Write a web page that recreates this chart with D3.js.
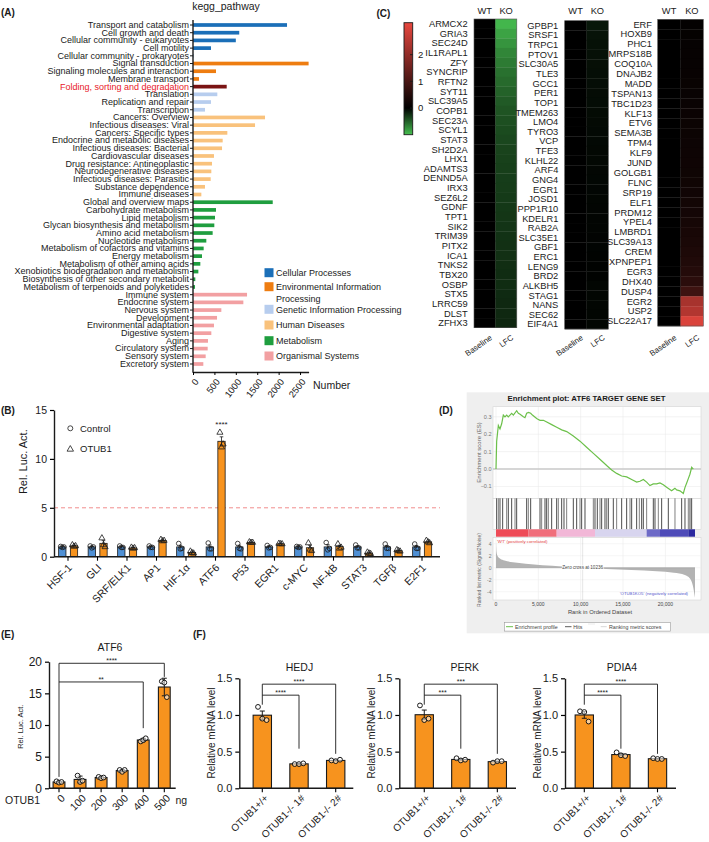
<!DOCTYPE html>
<html><head><meta charset="utf-8">
<script src="https://cdn.jsdelivr.net/npm/d3@7"></script>
<style>body{margin:0;background:#fff}svg{display:block;font-family:"Liberation Sans",Arial,Helvetica,sans-serif}</style>
</head><body><svg id="c" width="709" height="842"></svg>
<script>
// ================= DATA =================
// Panel A
const keggCategories = ["Transport and catabolism","Cell growth and death","Cellular community - eukaryotes","Cell motility","Cellular community - prokaryotes",
"Signal transduction","Signaling molecules and interaction","Membrane transport",
"Folding, sorting and degradation","Translation","Replication and repair","Transcription",
"Cancers: Overview","Infectious diseases: Viral","Cancers: Specific types","Endocrine and metabolic diseases","Infectious diseases: Bacterial","Cardiovascular diseases","Drug resistance: Antineoplastic","Neurodegenerative diseases","Infectious diseases: Parasitic","Substance dependence","Immune diseases",
"Global and overview maps","Carbohydrate metabolism","Lipid metabolism","Glycan biosynthesis and metabolism","Amino acid metabolism","Nucleotide metabolism","Metabolism of cofactors and vitamins","Energy metabolism","Metabolism of other amino acids","Xenobiotics biodegradation and metabolism","Biosynthesis of other secondary metabolit","Metabolism of terpenoids and polyketides",
"Immune system","Endocrine system","Nervous system","Development","Environmental adaptation","Digestive system","Aging","Circulatory system","Sensory system","Excretory system"];
const keggGroup = [0,0,0,0,0, 1,1,1, 2,2,2,2, 3,3,3,3,3,3,3,3,3,3,3, 4,4,4,4,4,4,4,4,4,4,4,4, 5,5,5,5,5,5,5,5,5,5];
const keggValues = [2196,1080,1000,420,8, 2700,537,140, 787,568,420,280, 1682,1449,802,693,678,490,444,428,413,280,195, 1862,537,514,498,459,311,249,210,171,125,54,47, 1262,1176,662,561,490,428,350,343,296,241];
const keggGroupNames = ["Cellular Processes","Environmental Information","Genetic Information Processing","Human Diseases","Metabolism","Organismal Systems"];
const keggGroupColors = ["#1b6fb8","#ee7d11","#b7cdee","#f9c27c","#1f9e3f","#f2a0a2"];
const keggHighlight = "Folding, sorting and degradation";
const keggTicks = [0,500,1000,1500,2000,2500];

// Panel B
const lucGenes = ["HSF-1","GLI","SRF/ELK1","AP1","HIF-1α","ATF6","P53","EGR1","c-MYC","NF-kB","STAT3","TGFβ","E2F1"];
const lucControl = [[1.05,0.95,1.0],[1.1,0.9,1.0],[1.1,0.95,0.95],[1.1,0.95,0.95],[1.35,0.8,0.85],[1.4,0.8,0.8],[1.35,0.85,0.8],[1.15,0.9,0.95],[1.05,0.95,1.0],[1.45,0.7,0.85],[1.2,0.9,0.9],[1.3,0.85,0.85],[1.3,0.85,0.85]];
const lucOTUB1 = [[1.2,1.05,1.1],[1.9,1.2,1.0],[0.95,0.85,0.9],[1.75,1.6,1.65],[0.55,0.4,0.35],[12.7,11.2,11.5],[1.5,1.45,1.45],[1.35,1.3,1.3],[1.4,0.75,0.6],[1.3,0.85,0.95],[0.45,0.35,0.3],[0.7,0.6,0.55],[1.65,1.5,1.4]];
const lucTicks = [0,5,10,15];
const lucThreshold = 5;

// Panel C
const hmGenes1 = ["ARMCX2","GRIA3","SEC24D","IL1RAPL1","ZFY","SYNCRIP","RFTN2","SYT11","SLC39A5","COPB1","SEC23A","SCYL1","STAT3","SH2D2A","LHX1","ADAMTS3","DENND5A","IRX3","SEZ6L2","GDNF","TPT1","SIK2","TRIM39","PITX2","ICA1","TNKS2","TBX20","OSBP","STX5","LRRC59","DLST","ZFHX3"];
const hmLFC1 = [-0.95,-0.85,-0.77,-0.7,-0.64,-0.59,-0.55,-0.51,-0.47,-0.44,-0.41,-0.39,-0.37,-0.35,-0.34,-0.33,-0.32,-0.31,-0.3,-0.29,-0.28,-0.27,-0.26,-0.25,-0.25,-0.24,-0.23,-0.23,-0.22,-0.21,-0.21,-0.2];
const hmGenes2 = ["GPBP1","SRSF1","TRPC1","PTOV1","SLC30A5","TLE3","GCC1","PER1","TOP1","TMEM263","LMO4","TYRO3","VCP","TFE3","KLHL22","ARF4","GNG4","EGR1","JOSD1","PPP1R10","KDELR1","RAB2A","SLC35E1","GBF1","ERC1","LENG9","BRD2","ALKBH5","STAG1","NANS","SEC62","EIF4A1"];
const hmLFC2 = [-0.12,-0.1,-0.09,-0.085,-0.08,-0.075,-0.07,-0.065,-0.06,-0.055,-0.05,-0.048,-0.045,-0.042,-0.04,-0.038,-0.035,-0.033,-0.03,-0.028,-0.026,-0.024,-0.022,-0.02,-0.018,-0.016,-0.015,-0.03,-0.03,-0.03,-0.03,-0.03];
const hmGenes3 = ["ERF","HOXB9","PHC1","MRPS18B","COQ10A","DNAJB2","MADD","TSPAN13","TBC1D23","KLF13","ETV6","SEMA3B","TPM4","KLF9","JUND","GOLGB1","FLNC","SRP19","ELF1","PRDM12","YPEL4","LMBRD1","SLC39A13","CREM","XPNPEP1","EGR3","DHX40","DUSP4","EGR2","USP2","SLC22A17"];
const hmLFC3 = [0.06,0.07,0.08,0.09,0.1,0.11,0.12,0.13,0.14,0.15,0.16,0.17,0.18,0.19,0.2,0.21,0.22,0.24,0.26,0.28,0.3,0.33,0.36,0.4,0.44,0.5,0.6,0.85,2.3,2.45,3.0];
const hmColumns = ["Baseline","LFC"];
const hmHeaders = ["WT","KO"];
const hmBarTicks = [0,1,2];

// Panel D
const esRanks = [0,79,276,470,670,866,1060,1260,1450,1654,1850,2050,2441,2640,2840,3229,3420,3622,3850,4095,4300,4800,5000,5200,5600,5990,6580,7170,7760,8350,9130,9920,10700,11500,12300,13070,13660,14250,14840,15430,16020,16610,17000,17400,17790,18180,18570,18970,19360,19760,20150,20740,21130,21330,21720,22120,22320,22520,22710,22900,23110,23300];
const esValues = [0,0.16,0.25,0.23,0.26,0.31,0.3,0.31,0.3,0.31,0.32,0.31,0.335,0.32,0.315,0.3,0.295,0.32,0.325,0.32,0.31,0.29,0.285,0.28,0.28,0.27,0.255,0.24,0.225,0.215,0.19,0.16,0.125,0.09,0.055,0.02,-0.005,-0.025,-0.04,-0.045,-0.06,-0.075,-0.07,-0.06,-0.075,-0.095,-0.085,-0.085,-0.08,-0.09,-0.105,-0.125,-0.11,-0.12,-0.125,-0.14,-0.105,-0.08,-0.055,-0.03,0.01,0.0];
const hitRanks = [79,276,472,787,1260,1456,1850,2244,2440,3621,3818,4093,5196,5392,5786,5983,6180,6573,7164,7360,7754,8029,8344,9131,9525,9919,10115,10509,11493,11690,11965,12280,12477,12870,13067,13264,13854,14248,14839,15429,15823,16020,16610,16925,17200,17397,17790,18578,18775,19168,19562,20349,21136,21923,22317,22710,22907,23104];
const metricRanks = [0,60,200,500,1000,2000,3500,5500,7800,10236,13000,16000,19000,21000,22300,22900,23250,23500];
const metricValues = [4.2,2.6,1.9,1.5,1.2,0.9,0.65,0.42,0.22,0,-0.2,-0.4,-0.6,-0.85,-1.2,-1.8,-3,-5];
const corrSegEnds = [3818,7164,11690,17790,19365,22710,23500];
const corrSegColors = ["#ee4b57","#f06e7b","#f2b7d7","#d8d5ef","#6d6ac7","#4e4bb8","#2b29a0"];
const rankTicks = [0,5000,10000,15000,20000];
const esTicks = [0.3,0.2,0.1,0.0,-0.1];
const metricTicks = [4,2,0,-2,-4];
const zeroCross = 10236;

// Panel E
const doseLabels = ["0","100","200","300","400","500"];
const doseReps = [[1.1,0.9,1.0],[2.0,1.0,1.2],[1.8,1.6,1.7],[2.9,2.6,2.9],[7.4,7.6,7.9],[16.9,16.7,14.4]];
const doseTicks = [0,5,10,15,20];

// Panel F
const fGroups = ["OTUB1+/+","OTUB1-/- 1#","OTUB1-/- 2#"];
const fTitles = ["HEDJ","PERK","PDIA4"];
const fReps = [
  [[1.11,0.95,0.93],[0.33,0.33,0.34],[0.38,0.37,0.39]],
  [[1.13,0.93,0.95],[0.41,0.38,0.39],[0.35,0.37,0.37]],
  [[1.05,1.04,0.91],[0.49,0.45,0.44],[0.41,0.40,0.40]]];
const fSig = [["****","****"],["***","***"],["****","****"]];
const fTicks = [0,0.5,1.0,1.5];

// ================= DRAW =================
const svg = d3.select("#c");
const INK = "#1a1a1a";
const ORANGE = "#f7931e", BLUE = "#4f90d5";
function txt(g,x,y,s,size,opts={}){
  const t=g.append("text").attr("x",x).attr("y",y).text(s).attr("font-size",size).attr("fill",opts.fill||INK);
  if(opts.anchor) t.attr("text-anchor",opts.anchor);
  if(opts.bold) t.attr("font-weight","bold");
  if(opts.rot!==undefined) t.attr("transform",`rotate(${opts.rot},${x},${y})`);
  return t;
}
function line(g,x1,y1,x2,y2,w,c){return g.append("line").attr("x1",x1).attr("y1",y1).attr("x2",x2).attr("y2",y2).attr("stroke",c||INK).attr("stroke-width",w||1);}

// ---------- Panel A ----------
{
  const g = svg.append("g");
  txt(g,1,15.5,"(A)",10,{bold:true});
  txt(g,226,9.5,"kegg_pathway",10.5,{anchor:"middle"});
  const x = d3.scaleLinear().domain([0,2700]).range([193,308.6]);
  const y = d3.scaleBand().domain(keggCategories).range([21.15,367.85]).paddingInner(0.52).paddingOuter(0.26);
  g.selectAll("rect.kb").data(keggCategories).join("rect").attr("class","kb")
    .attr("x",x(0)).attr("y",d=>y(d)).attr("height",y.bandwidth())
    .attr("width",(d,i)=>x(keggValues[i])-x(0))
    .attr("fill",(d,i)=> d===keggHighlight ? "#7a1414" : keggGroupColors[keggGroup[i]]);
  const ay = g.append("g").attr("transform","translate(193,0)").call(d3.axisLeft(y).tickSize(3).tickSizeOuter(0).tickPadding(1));
  ay.select(".domain").remove();
  ay.selectAll("text").attr("font-size",9).attr("font-family",null).attr("fill",d=>d===keggHighlight?"#e8202a":INK);
  ay.selectAll("line").attr("stroke",INK);
  line(g,193,20,193,372.7,1.4);
  const ax = g.append("g").attr("transform","translate(0,372)").call(d3.axisBottom(x).tickValues(keggTicks).tickSize(3).tickSizeOuter(0).tickFormat(d3.format("d")));
  ax.select(".domain").attr("stroke",INK).attr("stroke-width",1.4);
  ax.selectAll("text").attr("font-size",9.3).attr("font-family",null).attr("fill",INK)
    .attr("text-anchor","end").attr("x",0).attr("y",0).attr("dy","0.35em").attr("transform","translate(3,8) rotate(-52)");
  txt(g,313,389,"Number",10.5);
  const legY = [272.7,286.7,309.3,325,340.7,356];
  keggGroupNames.forEach((n,i)=>{
    g.append("rect").attr("x",264.5).attr("y",legY[i]-4.5).attr("width",9).attr("height",9).attr("fill",keggGroupColors[i]);
    txt(g,276,legY[i]+3.2,n,9);
  });
  txt(g,276,298.3+3.2,"Processing",9);
}

// ---------- Panel B ----------
{
  const g = svg.append("g");
  txt(g,1,414,"(B)",10,{bold:true});
  const y = d3.scaleLinear().domain([0,15]).range([556.7,410]);
  const x = d3.scaleBand().domain(lucGenes).range([53.25,436.75]).paddingInner(0).paddingOuter(0);
  const bw = 7.3;
  line(g,54,y(lucThreshold),440,y(lucThreshold),0.9,"#f08080").attr("stroke-dasharray","4,3");
  function series(reps,color,dx,shape){
    reps.forEach((r,i)=>{
      const cx = x(lucGenes[i])+x.bandwidth()/2+dx;
      const m = d3.mean(r), se = d3.deviation(r)/Math.sqrt(r.length);
      g.append("rect").attr("x",cx-bw/2).attr("y",y(m)).attr("width",bw).attr("height",y(0)-y(m)).attr("fill",color).attr("stroke",INK).attr("stroke-width",0.8);
      line(g,cx,y(m+se),cx,y(m-se),0.8); line(g,cx-1.8,y(m+se),cx+1.8,y(m+se),0.8);
      r.forEach((v,j)=>{
        const px = cx+(j-1)*1.6;
        if(shape==="c") g.append("circle").attr("cx",px).attr("cy",y(v)).attr("r",2.3).attr("fill","none").attr("stroke",INK).attr("stroke-width",0.8);
        else g.append("path").attr("d",d3.symbol(d3.symbolTriangle,16)()).attr("transform",`translate(${px},${y(v)})`).attr("fill","none").attr("stroke",INK).attr("stroke-width",0.8);
      });
    });
  }
  series(lucControl,BLUE,-5.7,"c");
  series(lucOTUB1,ORANGE,6,"t");
  const ay = g.append("g").attr("transform","translate(54,0)").call(d3.axisLeft(y).tickValues(lucTicks).tickSize(4).tickSizeOuter(0));
  ay.select(".domain").attr("stroke",INK).attr("stroke-width",1.4);
  ay.selectAll("line").attr("stroke-width",1.2);
  ay.selectAll("text").attr("font-size",10.5).attr("font-family",null).attr("fill",INK);
  const ax = g.append("g").attr("transform","translate(0,556.7)").call(d3.axisBottom(x).tickSize(4).tickSizeOuter(0));
  ax.select(".domain").attr("stroke",INK).attr("stroke-width",1.4).attr("d","M54,0H440");
  ax.selectAll("line").attr("stroke-width",1.1);
  ax.selectAll("text").attr("font-size",10.5).attr("font-family",null).attr("fill",INK)
    .attr("text-anchor","end").attr("x",0).attr("y",0).attr("dy","0.35em").attr("transform","translate(2,9) rotate(-45)");
  txt(g,27,461.7,"Rel. Luc. Act.",11,{anchor:"middle",rot:-90});
  g.append("circle").attr("cx",70.3).attr("cy",428.3).attr("r",2.5).attr("fill","none").attr("stroke",INK).attr("stroke-width",0.8);
  txt(g,80,431.5,"Control",9.5);
  g.append("path").attr("d",d3.symbol(d3.symbolTriangle,18)()).attr("transform","translate(70.3,449.3)").attr("fill","none").attr("stroke",INK).attr("stroke-width",0.8);
  txt(g,80,452.3,"OTUB1",9.5);
  txt(g,x("ATF6")+x.bandwidth()/2+6,427,"****",8,{anchor:"middle"});
}

// ---------- Panel C ----------
{
  const g = svg.append("g");
  txt(g,376.5,16.5,"(C)",10,{bold:true});
  const color = d3.scaleLinear().domain([-1,0,3.2]).range(["#46c050","#000000","#e8473f"]).clamp(true);
  const defs = svg.append("defs");
  const lg = defs.append("linearGradient").attr("id","cbar").attr("x1",0).attr("x2",0).attr("y1",1).attr("y2",0);
  const cb = d3.scaleLinear().domain([-1,3.2]).range([134.7,22.7]);
  [-1,-0.5,0,0.5,1,1.5,2,2.5,3,3.2].forEach(v=>lg.append("stop").attr("offset",(v+1)/4.2).attr("stop-color",color(v)));
  g.append("rect").attr("x",404).attr("y",22.7).attr("width",8.7).attr("height",112).attr("fill","url(#cbar)").attr("stroke",INK).attr("stroke-width",0.9);
  hmBarTicks.forEach(t=>{ line(g,410,cb(t),412.7,cb(t),0.9); txt(g,418,cb(t)+3.3,String(t),9.5); });
  function heat(genes,vals,x0,colW,y0,y1,labelX){
    const y = d3.scaleBand().domain(genes).range([y0,y1]);
    const xc = d3.scaleBand().domain(hmColumns).range([x0,x0+2*colW]);
    genes.forEach((gn,i)=>{
      g.append("rect").attr("x",xc("Baseline")).attr("y",y(gn)).attr("width",colW+0.3).attr("height",y.bandwidth()+0.3).attr("fill",color(0));
      g.append("rect").attr("x",xc("LFC")).attr("y",y(gn)).attr("width",colW).attr("height",y.bandwidth()+0.3).attr("fill",color(vals[i]));
      txt(g,labelX,y(gn)+y.bandwidth()/2+3.3,gn,9.3,{anchor:"end"});
    });
    g.append("rect").attr("x",x0).attr("y",y0).attr("width",2*colW).attr("height",y1-y0).attr("fill","none").attr("stroke","#555").attr("stroke-width",0.6);
    hmHeaders.forEach((h,k)=>txt(g,xc(hmColumns[k])+colW/2,14,h,9.3,{anchor:"middle"}));
    hmColumns.forEach(c=>{const ex=xc(c)+colW/2+8, ey=339; txt(g,ex,ey,c,8,{anchor:"end",rot:-35});});
  }
  heat(hmGenes1,hmLFC1,474,21.4,19,327.7,467.7);
  heat(hmGenes2,hmLFC2,564.7,21.8,20.7,329,558.3);
  heat(hmGenes3,hmLFC3,657.7,22.8,19.3,326,652);
}

// ---------- Panel D ----------
{
  const g = svg.append("g");
  g.append("rect").attr("x",466.7).attr("y",392.3).attr("width",242.3).attr("height",241).attr("fill","#efefef");
  txt(g,439,414,"(D)",10,{bold:true});
  txt(g,586.5,400.5,"Enrichment plot: ATF6 TARGET GENE SET",7.8,{anchor:"middle",bold:true});
  const x = d3.scaleLinear().domain([0,23500]).range([496,695]);
  const yE = d3.scaleLinear().domain([-0.168,0.358]).range([498.3,406.7]);
  const yM = d3.scaleLinear().domain([-5.38,4.62]).range([600,540]);
  const L=493, R=701;
  g.append("rect").attr("x",L).attr("y",406.7).attr("width",R-L).attr("height",91.6).attr("fill","#fff").attr("stroke","#d4d4d4").attr("stroke-width",0.6);
  g.append("rect").attr("x",L).attr("y",498.3).attr("width",R-L).attr("height",31).attr("fill","#fff").attr("stroke","#d4d4d4").attr("stroke-width",0.6);
  g.append("rect").attr("x",L).attr("y",537.5).attr("width",R-L).attr("height",62.5).attr("fill","#fff").attr("stroke","#d4d4d4").attr("stroke-width",0.6);
  rankTicks.forEach(t=>{ line(g,x(t),406.7,x(t),498.3,0.5,"#e6e6e6"); line(g,x(t),537.5,x(t),600,0.5,"#e6e6e6"); });
  esTicks.forEach(t=>{ if(t!==0) line(g,L,yE(t),R,yE(t),0.5,"#e6e6e6"); txt(g,491.5,yE(t)+2,d3.format(".1f")(t),5.5,{anchor:"end",fill:"#777"}); });
  metricTicks.forEach(t=>{ line(g,L,yM(t),R,yM(t),0.5,"#ececec"); txt(g,491.5,yM(t)+2,String(t),5,{anchor:"end",fill:"#777"}); });
  line(g,L,yE(0),R,yE(0),1.4,"#c8c8c8");
  g.append("path").datum(esRanks.map((r,i)=>[r,esValues[i]]))
    .attr("d",d3.line().x(d=>x(d[0])).y(d=>yE(d[1]))).attr("fill","none").attr("stroke","#6cc04a").attr("stroke-width",1.2);
  hitRanks.forEach((r,i)=>line(g,x(r),498.3,x(r),529.3,0.75,i%3===1?"#555":"#111"));
  let prev=0;
  corrSegEnds.forEach((e,i)=>{ g.append("rect").attr("x",x(prev)).attr("y",529.3).attr("width",x(e)-x(prev)).attr("height",7.4).attr("fill",corrSegColors[i]); prev=e; });
  g.append("path").datum(metricRanks.map((r,i)=>[r,metricValues[i]]))
    .attr("d",d3.area().x(d=>x(d[0])).y0(yM(0)).y1(d=>yM(d[1])).curve(d3.curveMonotoneX)).attr("fill","#b3b3b3");
  line(g,x(zeroCross),537.5,x(zeroCross),600,0.6,"#aaa").attr("stroke-dasharray","1,1");
  line(g,x(0),yM(0),x(23500),yM(0),0.6,"#999");
  const zc = txt(g,x(zeroCross),yM(0)+1.6,"Zero cross at "+zeroCross,4.6,{anchor:"middle",fill:"#444"});
  zc.attr("stroke","#fff").attr("stroke-width",1.5).attr("paint-order","stroke");
  txt(g,497,542.5,"'WT' (positively correlated)",4.3,{fill:"#e33b3b"});
  txt(g,688,595,"'OTUB1KO5' (negatively correlated)",4.3,{anchor:"end",fill:"#5555cc"});
  rankTicks.forEach(t=>txt(g,x(t),606,d3.format(",")(t),5,{anchor:"middle",fill:"#444"}));
  txt(g,600,614,"Rank in Ordered Dataset",5.8,{anchor:"middle",fill:"#444"});
  txt(g,481,452.5,"Enrichment score (ES)",6,{anchor:"middle",fill:"#666",rot:-90});
  txt(g,481,570,"Ranked list metric (Signal2Noise)",5,{anchor:"middle",fill:"#666",rot:-90});
  g.append("rect").attr("x",504.3).attr("y",622.3).attr("width",166.4).attr("height",8.8).attr("fill","#fff").attr("stroke","#999").attr("stroke-width",0.6);
  line(g,506,626.7,513,626.7,1,"#6cc04a"); txt(g,515,628.5,"Enrichment profile",5.3,{fill:"#444"});
  line(g,565,626.7,571.5,626.7,0.8,"#333"); txt(g,573.3,628.5,"Hits",5.3,{fill:"#444"});
  line(g,588,624,595,624,0.6,"#ddd");
  line(g,600.7,626.7,606.7,626.7,0.8,"#ccc"); txt(g,609,628.5,"Ranking metric scores",5.3,{fill:"#444"});
}

// ---------- helper for E/F bar panels ----------
function barPanel(g,o){
  const y = d3.scaleLinear().domain(o.ydom).range([o.y0,o.y1]);
  const x = d3.scaleBand().domain(o.cats).range(o.xr).paddingInner(o.pad).paddingOuter(o.pad/2);
  o.reps.forEach((r,i)=>{
    const cx = x(o.cats[i])+x.bandwidth()/2;
    const m = d3.mean(r); const e = o.sd ? d3.deviation(r) : d3.deviation(r)/Math.sqrt(r.length);
    g.append("rect").attr("x",x(o.cats[i])).attr("y",y(m)).attr("width",x.bandwidth()).attr("height",y(0)-y(m)).attr("fill",ORANGE).attr("stroke",INK).attr("stroke-width",1.1);
    line(g,cx,y(m+e),cx,y(m-e),1); line(g,cx-2.5,y(m+e),cx+2.5,y(m+e),1); line(g,cx-2.5,y(m-e),cx+2.5,y(m-e),1);
    r.forEach((v,j)=>g.append("circle").attr("cx",cx+(j-1)*o.jit).attr("cy",y(v)).attr("r",2.4).attr("fill","#fff").attr("fill-opacity",0.55).attr("stroke",INK).attr("stroke-width",1));
  });
  const ay = g.append("g").attr("transform",`translate(${o.ax},0)`).call(d3.axisLeft(y).tickValues(o.ticks).tickSize(4).tickSizeOuter(0).tickFormat(o.fmt));
  ay.select(".domain").attr("stroke",INK).attr("stroke-width",1.4);
  ay.selectAll("line").attr("stroke-width",1.2);
  ay.selectAll("text").attr("font-size",o.tfs).attr("font-family",null).attr("fill",INK);
  const axg = g.append("g").attr("transform",`translate(0,${o.y0})`).call(d3.axisBottom(x).tickSize(4).tickSizeOuter(0));
  axg.select(".domain").attr("stroke",INK).attr("stroke-width",1.4).attr("d",`M${o.ax},0H${o.axEnd}`);
  axg.selectAll("line").attr("stroke-width",1.1);
  axg.selectAll("text").attr("font-size",o.xfs).attr("font-family",null).attr("fill",INK)
    .attr("text-anchor","end").attr("x",0).attr("y",0).attr("dy","0.35em").attr("transform",`translate(4,8) rotate(-45)`);
  return {x,y,cx:i=>x(o.cats[i])+x.bandwidth()/2};
}
function bracket(g,x1,x2,yl,yLeft,yRight,label,fs){
  line(g,x1,yLeft,x1,yl,0.9); line(g,x1,yl,x2,yl,0.9); line(g,x2,yl,x2,yRight,0.9);
  txt(g,(x1+x2)/2,yl-0.3,label,fs,{anchor:"middle"});
}

// ---------- Panel E ----------
{
  const g = svg.append("g");
  txt(g,1,638.3,"(E)",10,{bold:true});
  txt(g,110,650.5,"ATF6",10.5,{anchor:"middle"});
  const p = barPanel(g,{ydom:[0,20],y0:788.3,y1:661.7,cats:doseLabels,xr:[48.47,174.83],pad:0.44,reps:doseReps,sd:true,
    ax:49,axEnd:175.7,ticks:doseTicks,tfs:12,xfs:10.5,jit:2.5,fmt:d3.format("d")});
  txt(g,23.5,726.7,"Rel. Luc. Act.",7.5,{anchor:"middle",rot:-90});
  txt(g,5,803.5,"OTUB1",10.5);
  txt(g,175.5,803.5,"ng",10.5);
  bracket(g,p.cx(0),p.cx(5),p.y(19.75),p.y(1.8),p.y(17.6),"****",7);
  bracket(g,p.cx(0),p.cx(4),p.y(16.8),p.y(16.8),p.y(9.5),"**",7);
}

// ---------- Panel F ----------
{
  const g = svg.append("g");
  txt(g,193,638.3,"(F)",10,{bold:true});
  const cfg = [
    {ax:239.3,axEnd:353.3,xr:[243.95,354.05],lab:215,title:299.5},
    {ax:399.3,axEnd:516,xr:[406,515.6],lab:375,title:464.7},
    {ax:565,axEnd:676,xr:[566,675.8],lab:541,title:622}];
  fTitles.forEach((t,k)=>{
    const c = cfg[k];
    txt(g,c.title,670.5,t,10.5,{anchor:"middle"});
    const p = barPanel(g,{ydom:[0,1.5],y0:788.3,y1:678.3,cats:fGroups,xr:c.xr,pad:0.5,reps:fReps[k],sd:false,
      ax:c.ax,axEnd:c.axEnd,ticks:fTicks,tfs:11,xfs:10,jit:4.3,fmt:d3.format(".1f")});
    txt(g,c.lab,733,"Relative mRNA level",10,{anchor:"middle",rot:-90});
    bracket(g,p.cx(0),p.cx(2),p.y(1.42),p.y(1.14),p.y(0.47),fSig[k][1],7);
    bracket(g,p.cx(0),p.cx(1),p.y(1.27),p.y(1.27),p.y(0.54),fSig[k][0],7);
  });
}
</script></body></html>
